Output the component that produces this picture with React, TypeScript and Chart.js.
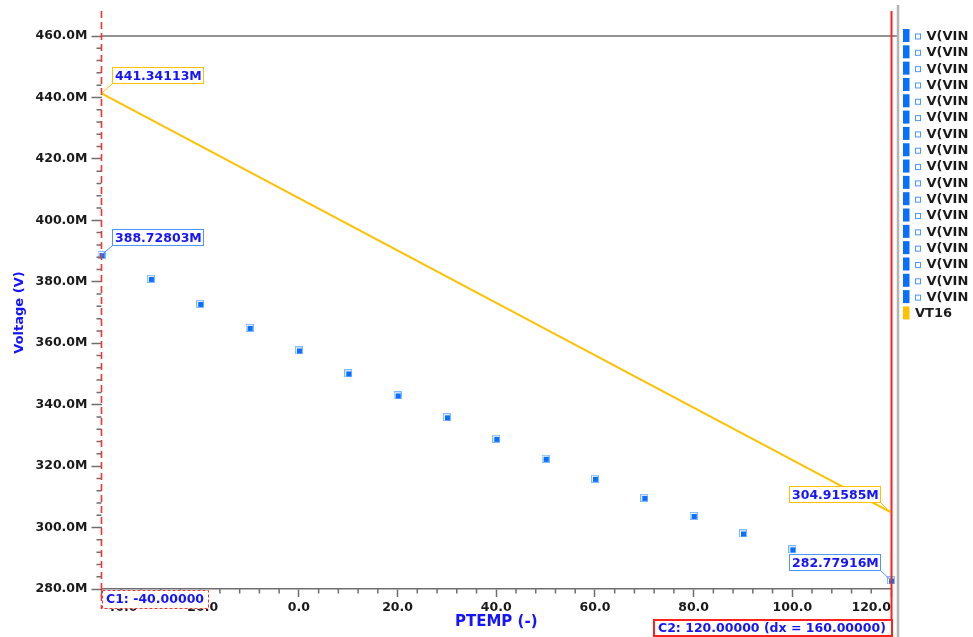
import { useEffect, useRef } from 'react';
import { Chart, registerables } from 'chart.js';

Chart.register(...registerables);

// Sweep temperatures (PTEMP) and the reference voltage at each step, in mV ("M" = milli).
const TEMPS = [-40, -30, -20, -10, 0, 10, 20, 30, 40, 50, 60, 70, 80, 90, 100, 110, 120];
const VIN_MV = [
  388.72803, 380.95, 372.82, 365.01, 357.66, 350.18, 343.02, 335.9, 328.9,
  322.4, 315.9, 309.7, 303.8, 298.1, 292.9, 287.7, 282.77916,
];
const VIN_LABEL = 'V(VIN)';

// Linear trace VT16 between its two end points.
const VT16_TEMPS = [-40, 120];
const VT16_MV = [441.34113, 304.91585];
const VT16_LABEL = 'VT16';

// Axis ranges and tick spacing.
const X_MIN = -40;
const X_MAX = 120;
const X_STEP = 20;
const X_MINOR = 4;
const Y_MIN = 280;
const Y_MAX = 460;
const Y_STEP = 20;
const Y_MINOR = 4;

// Cursor positions.
const CURSOR_1 = -40;
const CURSOR_2 = 120;

const FONT = '"DejaVu Sans", Verdana, sans-serif';
const LABEL_FONT = `bold 12.5px ${FONT}`;
const BLUE_TEXT = '#1414ff';
const VIN_COLOR = '#0a6eff';
const VIN_EDGE = '#4a98ff';
const VT16_COLOR = '#ffc000';
const CURSOR_RED = '#ff2020';
const AXIS_GRAY = '#6e6e6e';

function makeMarker(): HTMLCanvasElement {
  const c = document.createElement('canvas');
  c.width = 8;
  c.height = 8;
  const g = c.getContext('2d')!;
  g.fillStyle = '#7dbaff';
  g.fillRect(0, 0, 8, 8);
  g.fillStyle = '#ffffff';
  g.fillRect(1, 1, 6, 6);
  g.fillStyle = VIN_COLOR;
  g.fillRect(2, 2, 5, 5);
  return c;
}

function drawCallout(
  ctx: CanvasRenderingContext2D,
  px: number,
  py: number,
  text: string,
  border: string,
  side: 'left' | 'right',
) {
  ctx.font = LABEL_FONT;
  const w = Math.round(ctx.measureText(text).width) + 5;
  const h = 17;
  const bx = Math.round(side === 'right' ? px + 10 : px - 10 - w);
  const by = Math.round(py - 9 - h);
  ctx.strokeStyle = border;
  ctx.lineWidth = 1;
  ctx.setLineDash([]);
  ctx.beginPath();
  ctx.moveTo(px, py);
  ctx.lineTo(side === 'right' ? bx : bx + w, by + h);
  ctx.stroke();
  ctx.fillStyle = '#ffffff';
  ctx.fillRect(bx, by, w, h);
  ctx.strokeRect(bx + 0.5, by + 0.5, w - 1, h - 1);
  ctx.fillStyle = BLUE_TEXT;
  ctx.textAlign = 'left';
  ctx.textBaseline = 'middle';
  ctx.fillText(text, bx + 3, by + h / 2 + 1);
}

const overlayPlugin = {
  id: 'waveOverlay',
  afterDatasetsDraw(chart: any) {
    const ctx: CanvasRenderingContext2D = chart.ctx;
    const { left, bottom } = chart.chartArea;
    const xs = chart.scales.x;
    const ys = chart.scales.y;
    const H = chart.height;
    ctx.save();

    // minor ticks
    ctx.strokeStyle = AXIS_GRAY;
    ctx.lineWidth = 1.5;
    ctx.beginPath();
    for (let v = X_MIN; v <= X_MAX; v += X_MINOR) {
      if (v % X_STEP === 0) continue;
      const px = xs.getPixelForValue(v);
      ctx.moveTo(px, bottom);
      ctx.lineTo(px, bottom + 4.5);
    }
    for (let v = Y_MIN; v <= Y_MAX; v += Y_MINOR) {
      if (v % Y_STEP === 0) continue;
      const py = ys.getPixelForValue(v);
      ctx.moveTo(left - 5, py);
      ctx.lineTo(left, py);
    }
    ctx.stroke();

    // top boundary at the upper limit
    const topY = ys.getPixelForValue(Y_MAX);
    ctx.beginPath();
    ctx.moveTo(left, topY);
    ctx.lineTo(897, topY);
    ctx.stroke();

    // panel separator
    ctx.strokeStyle = '#b4b4b4';
    ctx.lineWidth = 2.5;
    ctx.beginPath();
    ctx.moveTo(898, 5);
    ctx.lineTo(898, H);
    ctx.stroke();

    // cursors
    const c1 = xs.getPixelForValue(CURSOR_1);
    const c2 = xs.getPixelForValue(CURSOR_2);
    ctx.strokeStyle = '#ff3030';
    ctx.lineWidth = 1.6;
    ctx.setLineDash([7, 4]);
    ctx.beginPath();
    ctx.moveTo(c1, 11);
    ctx.lineTo(c1, 609);
    ctx.stroke();
    ctx.setLineDash([]);
    ctx.strokeStyle = CURSOR_RED;
    ctx.lineWidth = 2;
    ctx.beginPath();
    ctx.moveTo(c2 + 0.5, 11);
    ctx.lineTo(c2 + 0.5, H);
    ctx.stroke();

    // value callouts at the cursor crossings
    const vinFirst = VIN_MV[0];
    const vinLast = VIN_MV[VIN_MV.length - 1];
    drawCallout(ctx, xs.getPixelForValue(TEMPS[0]), ys.getPixelForValue(vinFirst), vinFirst.toFixed(5) + 'M', VIN_EDGE, 'right');
    drawCallout(ctx, xs.getPixelForValue(TEMPS[TEMPS.length - 1]), ys.getPixelForValue(vinLast), vinLast.toFixed(5) + 'M', VIN_EDGE, 'left');
    drawCallout(ctx, xs.getPixelForValue(VT16_TEMPS[0]), ys.getPixelForValue(VT16_MV[0]), VT16_MV[0].toFixed(5) + 'M', VT16_COLOR, 'right');
    drawCallout(ctx, xs.getPixelForValue(VT16_TEMPS[1]), ys.getPixelForValue(VT16_MV[1]), VT16_MV[1].toFixed(5) + 'M', VT16_COLOR, 'left');

    // cursor readouts
    ctx.font = LABEL_FONT;
    ctx.textBaseline = 'middle';
    ctx.textAlign = 'left';
    const t1 = `C1: ${CURSOR_1.toFixed(5)}`;
    const w1 = Math.round(ctx.measureText(t1).width) + 9;
    const b1x = Math.round(c1);
    ctx.fillStyle = '#ffffff';
    ctx.fillRect(b1x, 590, w1, 19);
    ctx.strokeStyle = '#ff3030';
    ctx.lineWidth = 1;
    ctx.setLineDash([3, 2]);
    ctx.strokeRect(b1x + 0.5, 590.5, w1 - 1, 18);
    ctx.setLineDash([]);
    ctx.fillStyle = BLUE_TEXT;
    ctx.fillText(t1, b1x + 4, 600);

    const t2 = `C2: ${CURSOR_2.toFixed(5)} (dx = ${(CURSOR_2 - CURSOR_1).toFixed(5)})`;
    const w2 = Math.round(ctx.measureText(t2).width) + 12;
    const b2r = Math.round(c2) + 2;
    ctx.fillStyle = '#ffffff';
    ctx.fillRect(b2r - w2, 619, w2, H - 619);
    ctx.strokeStyle = CURSOR_RED;
    ctx.lineWidth = 2;
    ctx.strokeRect(b2r - w2 + 1, 620, w2 - 2, H - 620 - 1);
    ctx.fillStyle = BLUE_TEXT;
    ctx.fillText(t2, b2r - w2 + 5, 628.5);

    // legend panel
    ctx.save();
    ctx.beginPath();
    ctx.rect(900, 0, 68, H);
    ctx.clip();
    const pitch = 16.32;
    chart.data.datasets.forEach((ds: any, i: number) => {
      const cy = 35.5 + i * pitch;
      const isVin = ds.label === VIN_LABEL;
      ctx.fillStyle = isVin ? VIN_COLOR : VT16_COLOR;
      ctx.fillRect(903, cy - 6.5, 6.5, 13);
      let tx = 915;
      if (isVin) {
        ctx.strokeStyle = VIN_EDGE;
        ctx.lineWidth = 1;
        ctx.strokeRect(915.5, cy - 1.5, 5, 5);
        tx = 926.5;
      }
      ctx.fillStyle = '#1a1a1a';
      ctx.font = `bold 13px ${FONT}`;
      ctx.textBaseline = 'middle';
      ctx.fillText(ds.label, tx, cy + 1);
    });
    ctx.restore();

    ctx.restore();
  },
};

export default function App() {
  const canvasRef = useRef<HTMLCanvasElement | null>(null);

  useEffect(() => {
    const canvas = canvasRef.current;
    if (!canvas) return;
    const marker = makeMarker();

    const vinSets = TEMPS.map((t, i) => ({
      type: 'scatter' as const,
      label: VIN_LABEL,
      data: [{ x: t, y: VIN_MV[i] }],
      pointStyle: marker,
      pointRadius: 4,
      showLine: false,
      clip: false as any,
    }));
    const vt16Set = {
      type: 'line' as const,
      label: VT16_LABEL,
      data: VT16_TEMPS.map((t, i) => ({ x: t, y: VT16_MV[i] })),
      borderColor: VT16_COLOR,
      borderWidth: 2,
      pointRadius: 0,
      fill: false,
      tension: 0,
      clip: false as any,
    };

    const tickFont = { family: FONT, size: 12.5, weight: 'bold' as const };

    const chart = new Chart(canvas, {
      type: 'scatter',
      data: { datasets: [...vinSets, vt16Set] as any },
      options: {
        responsive: false,
        animation: false,
        layout: { padding: { top: 36, right: 82, bottom: 0, left: 0 } },
        plugins: {
          legend: { display: false },
          tooltip: { enabled: false },
        },
        scales: {
          x: {
            type: 'linear',
            position: 'bottom',
            min: X_MIN,
            max: X_MAX,
            ticks: {
              stepSize: X_STEP,
              align: 'inner',
              padding: 3,
              color: '#1a1a1a',
              font: tickFont,
              maxRotation: 0,
              autoSkip: false,
              callback: (v: any) => Number(v).toFixed(1),
            },
            grid: {
              drawOnChartArea: false,
              drawTicks: true,
              tickLength: 8,
              tickColor: AXIS_GRAY,
              tickWidth: 1.5,
            },
            border: { display: true, color: AXIS_GRAY, width: 1.5 },
            title: {
              display: true,
              text: 'PTEMP (-)',
              color: BLUE_TEXT,
              font: { family: FONT, size: 15, weight: 'bold' },
              padding: { top: 0, bottom: 6 },
            },
            afterFit: (s: any) => {
              s.height = 48;
            },
          },
          y: {
            type: 'linear',
            min: Y_MIN,
            max: Y_MAX,
            ticks: {
              stepSize: Y_STEP,
              padding: 4,
              color: '#1a1a1a',
              font: tickFont,
              callback: (v: any) => Number(v).toFixed(1) + 'M',
            },
            grid: {
              drawOnChartArea: false,
              drawTicks: true,
              tickLength: 10,
              tickColor: AXIS_GRAY,
              tickWidth: 1.5,
            },
            border: { display: false },
            title: {
              display: true,
              text: 'Voltage (V)',
              color: BLUE_TEXT,
              font: { family: FONT, size: 13, weight: 'bold' },
              padding: { top: 12, bottom: 0 },
            },
            afterFit: (s: any) => {
              s.width = 101.5;
            },
          },
        },
      } as any,
      plugins: [overlayPlugin],
    });

    return () => chart.destroy();
  }, []);

  return (
    <div style={{ position: 'fixed', left: 0, top: 0, width: 973, height: 637, background: '#ffffff' }}>
      <canvas ref={canvasRef} width={973} height={637} style={{ display: 'block' }} />
    </div>
  );
}
